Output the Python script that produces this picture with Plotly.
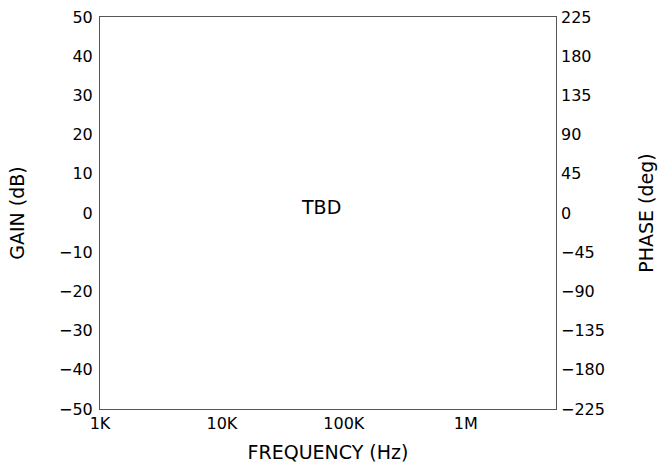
import plotly.graph_objects as go

# Axis definitions
freq_tickvals = [1e3, 1e4, 1e5, 1e6]
freq_ticktext = ["1K", "10K", "100K", "1M"]
gain_ticks = [-50, -40, -30, -20, -10, 0, 10, 20, 30, 40, 50]
phase_ticks = [-225, -180, -135, -90, -45, 0, 45, 90, 135, 180, 225]
freq_range_log = [3, 6.74]
placeholder_text = "TBD"

FONT = "DejaVu Sans"
LINE = "#555555"

fig = go.Figure()
fig.add_trace(go.Scatter(x=freq_tickvals, y=[None] * len(freq_tickvals),
                         yaxis="y", showlegend=False, hoverinfo="skip"))
fig.add_trace(go.Scatter(x=freq_tickvals, y=[None] * len(freq_tickvals),
                         yaxis="y2", showlegend=False, hoverinfo="skip"))

fig.update_layout(
    width=663, height=472,
    margin=dict(l=100, r=107, t=17, b=63, autoexpand=False),
    paper_bgcolor="white", plot_bgcolor="white",
    font=dict(family=FONT, size=16, color="black"),
    showlegend=False,
    xaxis=dict(
        type="log", range=freq_range_log, automargin=False,
        tickmode="array", tickvals=freq_tickvals, ticktext=freq_ticktext,
        showgrid=False, zeroline=False,
        showline=True, linecolor=LINE, linewidth=1, mirror=True,
        ticks="", ticklabelstandoff=0,
        tickfont=dict(family=FONT, size=16),
        title=dict(text="FREQUENCY (Hz)", font=dict(family=FONT, size=19), standoff=13),
    ),
    yaxis=dict(
        range=[gain_ticks[0], gain_ticks[-1]], automargin=False,
        tickmode="array", tickvals=gain_ticks,
        showgrid=False, zeroline=False,
        showline=True, linecolor=LINE, linewidth=1, mirror=True,
        ticks="", ticklabelstandoff=3,
        tickfont=dict(family=FONT, size=16),
        title=dict(text="GAIN (dB)", font=dict(family=FONT, size=19), standoff=29),
    ),
    yaxis2=dict(
        range=[phase_ticks[0], phase_ticks[-1]], automargin=False,
        tickmode="array", tickvals=phase_ticks,
        overlaying="y", side="right",
        showgrid=False, zeroline=False, showline=False,
        ticks="", ticklabelstandoff=4,
        tickfont=dict(family=FONT, size=16),
        title=dict(text="PHASE (deg)", font=dict(family=FONT, size=19), standoff=35),
    ),
    annotations=[dict(
        text=placeholder_text, xref="paper", yref="paper",
        x=0.485, y=0.515, showarrow=False,
        font=dict(family=FONT, size=19, color="black"),
    )],
)

fig.write_html("out.html", config={"displayModeBar": False},
               post_script="document.body.style.margin='0px';")
